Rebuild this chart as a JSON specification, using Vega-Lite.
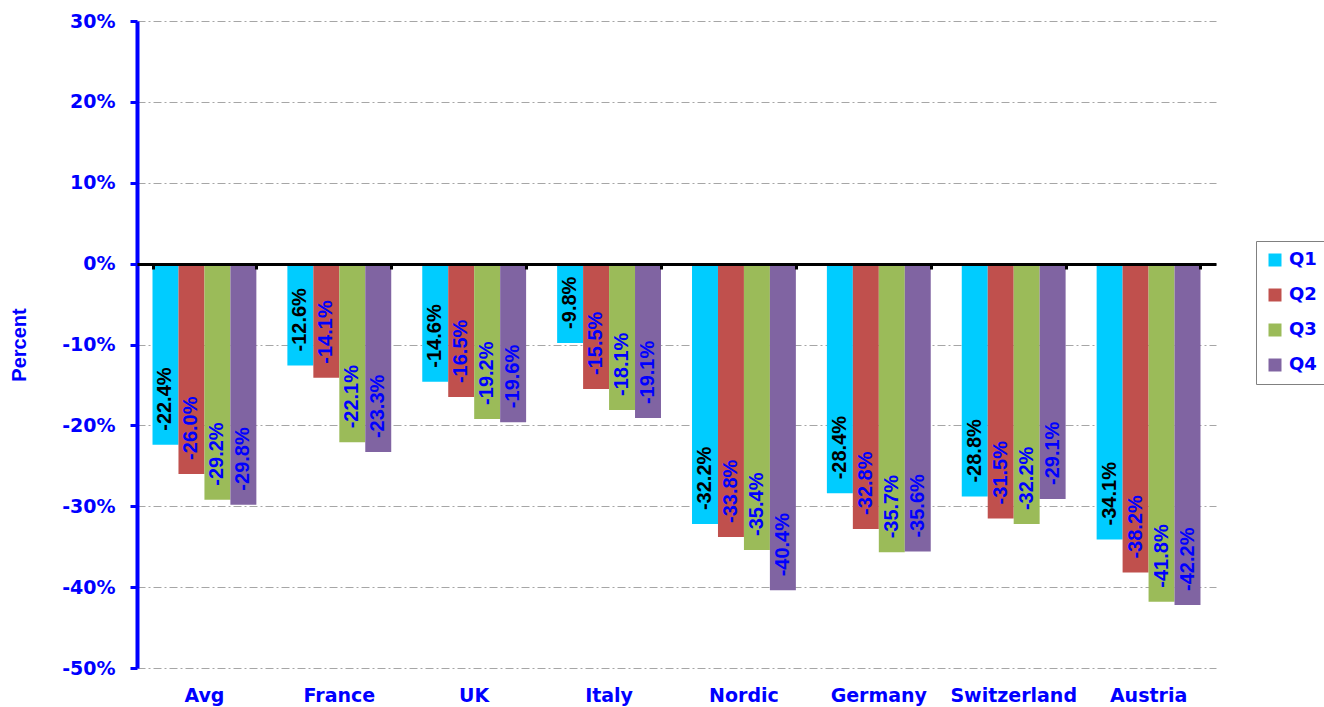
{
  "$schema": "https://vega.github.io/schema/vega-lite/v6.json",
  "width": 1079,
  "height": 647,
  "autosize": {"type": "none"},
  "padding": {"left": 137, "top": 21, "right": 108, "bottom": 39},
  "background": "white",
  "config": {
    "view": {"stroke": null},
    "locale": {
      "number": {
        "decimal": ".",
        "thousands": ",",
        "grouping": [3],
        "currency": ["", "%"],
        "minus": "-"
      }
    }
  },
  "data": {
    "values": [
      {"region": "Avg", "quarter": "Q1", "value": -22.4},
      {"region": "Avg", "quarter": "Q2", "value": -26.0},
      {"region": "Avg", "quarter": "Q3", "value": -29.2},
      {"region": "Avg", "quarter": "Q4", "value": -29.8},
      {"region": "France", "quarter": "Q1", "value": -12.6},
      {"region": "France", "quarter": "Q2", "value": -14.1},
      {"region": "France", "quarter": "Q3", "value": -22.1},
      {"region": "France", "quarter": "Q4", "value": -23.3},
      {"region": "UK", "quarter": "Q1", "value": -14.6},
      {"region": "UK", "quarter": "Q2", "value": -16.5},
      {"region": "UK", "quarter": "Q3", "value": -19.2},
      {"region": "UK", "quarter": "Q4", "value": -19.6},
      {"region": "Italy", "quarter": "Q1", "value": -9.8},
      {"region": "Italy", "quarter": "Q2", "value": -15.5},
      {"region": "Italy", "quarter": "Q3", "value": -18.1},
      {"region": "Italy", "quarter": "Q4", "value": -19.1},
      {"region": "Nordic", "quarter": "Q1", "value": -32.2},
      {"region": "Nordic", "quarter": "Q2", "value": -33.8},
      {"region": "Nordic", "quarter": "Q3", "value": -35.4},
      {"region": "Nordic", "quarter": "Q4", "value": -40.4},
      {"region": "Germany", "quarter": "Q1", "value": -28.4},
      {"region": "Germany", "quarter": "Q2", "value": -32.8},
      {"region": "Germany", "quarter": "Q3", "value": -35.7},
      {"region": "Germany", "quarter": "Q4", "value": -35.6},
      {"region": "Switzerland", "quarter": "Q1", "value": -28.8},
      {"region": "Switzerland", "quarter": "Q2", "value": -31.5},
      {"region": "Switzerland", "quarter": "Q3", "value": -32.2},
      {"region": "Switzerland", "quarter": "Q4", "value": -29.1},
      {"region": "Austria", "quarter": "Q1", "value": -34.1},
      {"region": "Austria", "quarter": "Q2", "value": -38.2},
      {"region": "Austria", "quarter": "Q3", "value": -41.8},
      {"region": "Austria", "quarter": "Q4", "value": -42.2}
    ]
  },
  "encoding": {
    "x": {
      "field": "region",
      "type": "nominal",
      "sort": null,
      "scale": {"paddingInner": 0.23, "paddingOuter": 0.115}
    },
    "xOffset": {"field": "quarter", "type": "nominal", "sort": ["Q1", "Q2", "Q3", "Q4"]},
    "y": {
      "field": "value",
      "type": "quantitative",
      "scale": {"domain": [-50, 30], "nice": false, "zero": false}
    }
  },
  "layer": [
    {
      "mark": {"type": "bar"},
      "encoding": {
        "x": {
          "field": "region",
          "type": "nominal",
          "sort": null,
          "axis": {
            "title": null,
            "orient": "bottom",
            "domain": false,
            "ticks": false,
            "tickSize": 0,
            "grid": false,
            "labelAngle": 0,
            "labelPadding": 18,
            "labelFont": "DejaVu Sans",
            "labelFontWeight": "bold",
            "labelFontSize": 19,
            "labelColor": "#0000FF"
          }
        },
        "y": {
          "field": "value",
          "type": "quantitative",
          "axis": {
            "title": "Percent",
            "titleFont": "Liberation Sans",
            "titleFontWeight": "bold",
            "titleFontSize": 20,
            "titleColor": "#0000FF",
            "titlePadding": 32,
            "values": [-50, -40, -30, -20, -10, 0, 10, 20, 30],
            "labelExpr": "datum.value + '%'",
            "labelFont": "DejaVu Sans",
            "labelFontWeight": "bold",
            "labelFontSize": 19,
            "labelColor": "#0000FF",
            "labelPadding": 15,
            "domainColor": "#0000FF",
            "domainWidth": 4,
            "tickColor": "#0000FF",
            "tickWidth": 3,
            "tickSize": 7,
            "grid": true,
            "gridColor": "#a6a6a6",
            "gridWidth": 1,
            "gridDash": [8, 3, 2, 3]
          }
        },
        "color": {
          "field": "quarter",
          "type": "nominal",
          "scale": {
            "domain": ["Q1", "Q2", "Q3", "Q4"],
            "range": ["#00CCFF", "#C0504D", "#9BBB59", "#8064A2"]
          },
          "legend": {
            "title": null,
            "orient": "none",
            "legendX": 1119,
            "legendY": 220,
            "symbolType": "square",
            "symbolSize": 169,
            "symbolStrokeWidth": 0,
            "labelFont": "DejaVu Sans",
            "labelFontWeight": "bold",
            "labelFontSize": 18,
            "labelColor": "#0000FF",
            "labelOffset": 5,
            "rowPadding": 17,
            "padding": 10,
            "strokeColor": "#808080",
            "fillColor": "white",
            "cornerRadius": 0
          }
        }
      }
    },
    {
      "mark": {
        "type": "text",
        "angle": 270,
        "align": "left",
        "baseline": "middle",
        "dx": 14,
        "font": "Liberation Sans",
        "fontWeight": "bold",
        "fontSize": 20
      },
      "encoding": {
        "x": {
          "field": "region",
          "type": "nominal",
          "sort": null,
          "axis": {
            "title": null,
            "orient": "bottom",
            "offset": -404,
            "labels": false,
            "domain": true,
            "domainColor": "black",
            "domainWidth": 3,
            "ticks": true,
            "tickBand": "extent",
            "tickColor": "black",
            "tickWidth": 3,
            "tickSize": 5,
            "grid": false,
            "zindex": 2
          }
        },
        "text": {"field": "value", "type": "quantitative", "format": "$.1f"},
        "color": {
          "condition": {"test": "datum.quarter === 'Q1'", "value": "black"},
          "value": "#0000FF"
        }
      }
    }
  ],
  "resolve": {"axis": {"x": "independent"}}
}
